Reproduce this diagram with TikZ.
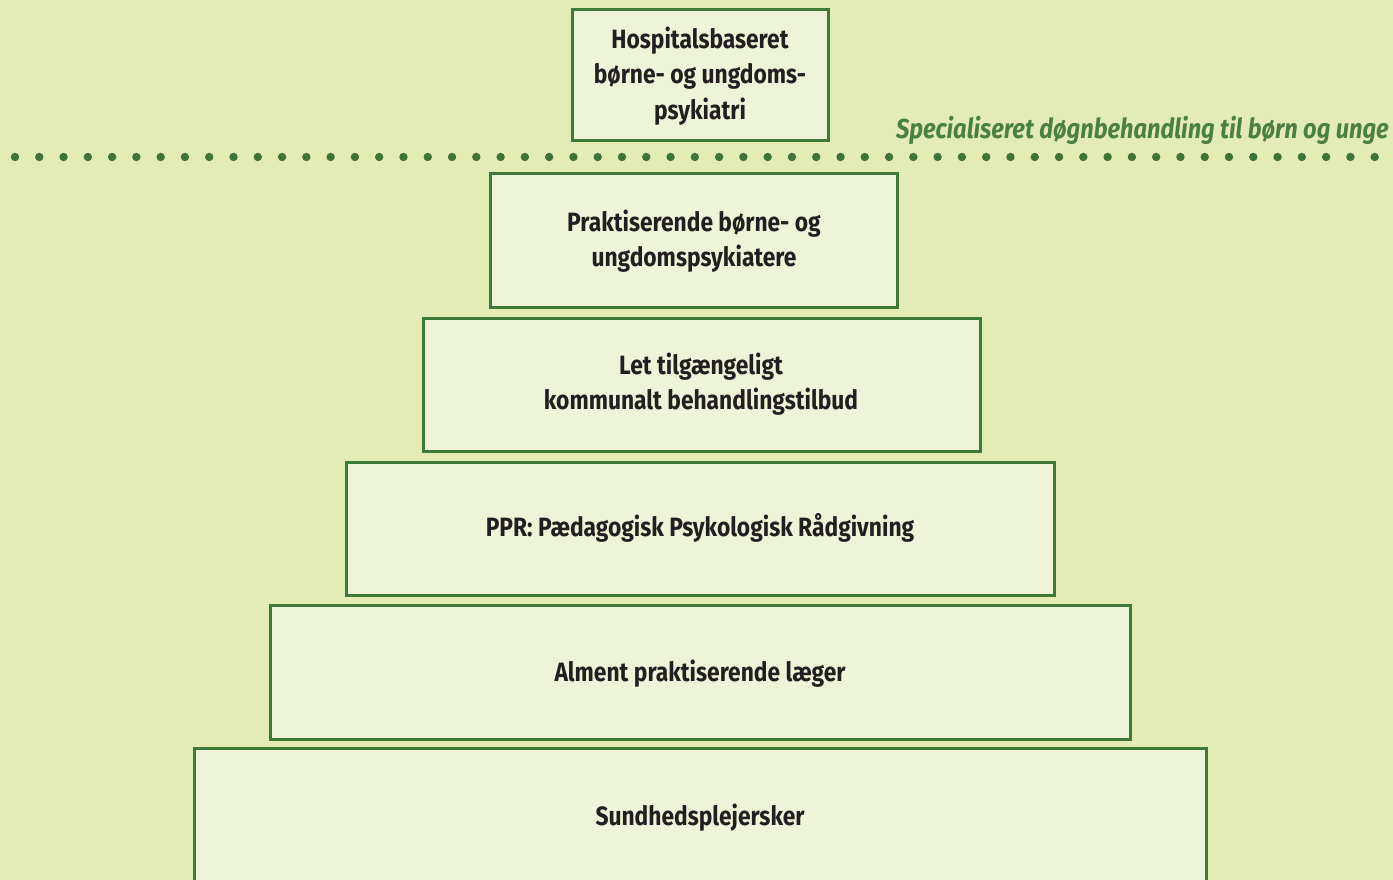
\documentclass[tikz,border=0pt]{standalone}
\usepackage{fontspec}
\setmainfont{Fira Sans}[FakeStretch=0.86]
\definecolor{bg}{HTML}{E4ECB6}
\definecolor{boxfill}{HTML}{EEF4D8}
\definecolor{edge}{HTML}{3F7A38}
\definecolor{dotc}{HTML}{3E7339}
\definecolor{txt}{HTML}{231F20}
\definecolor{lab}{HTML}{4A8040}
\tikzset{
  tier/.style={draw=edge, line width=3pt, fill=boxfill, inner sep=0pt},
  tiertext/.style={font=\fontsize{26.5}{35.5}\selectfont\bfseries, text=txt, align=center},
}
\begin{document}
\begin{tikzpicture}[x=1pt,y=-1pt]
\fill[bg] (0,0) rectangle (1393,880);
\useasboundingbox (0,0) rectangle (1393,880);
% boxes
\draw[tier] (572,10) rectangle (828,141);
\draw[tier] (490,174) rectangle (897,307);
\draw[tier] (423,318) rectangle (980,451);
\draw[tier] (346,462) rectangle (1054,595);
\draw[tier] (270,605) rectangle (1130,739);
\draw[tier] (194,748) rectangle (1206,895);
% texts
\node[tiertext] (t1) at (700,76) {Hospitalsbaseret\\børne- og ungdoms-\\psykiatri};
\node[tiertext] (t2) at (694,241) {Praktiserende børne- og\\ungdomspsykiatere};
\node[tiertext] (t3) at (701,384) {Let tilgængeligt\\kommunalt behandlingstilbud};
\node[tiertext] (t4) at (700,528) {PPR: Pædagogisk Psykologisk Rådgivning};
\node[tiertext] (t5) at (700,674) {Alment praktiserende læger};
\node[tiertext] (t6) at (700,818) {Sundhedsplejersker};
% label
\node[anchor=east, font=\fontsize{27.5}{30}\selectfont\bfseries\itshape, text=lab, inner sep=0pt] (lbl) at (1389,130) {Specialiseret døgnbehandling til børn og unge};
% dotted separator
\foreach \i in {0,...,56} {
  \fill[dotc] (15+24.28*\i,157) circle (4.2);
}
\end{tikzpicture}
\end{document}
